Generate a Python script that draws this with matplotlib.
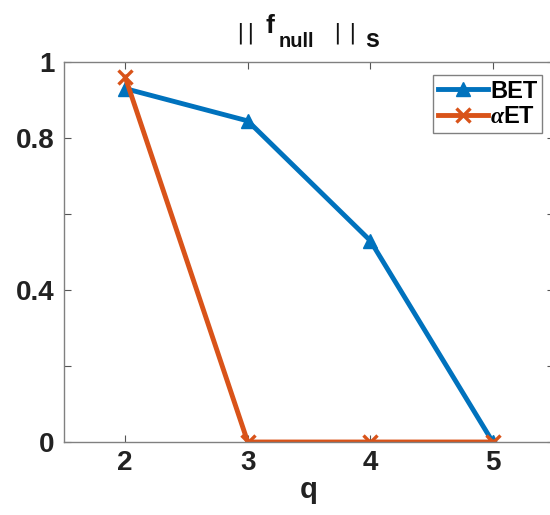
import matplotlib
matplotlib.use("Agg")
import matplotlib.pyplot as plt

q = [2, 3, 4, 5]
bet = [0.93, 0.845, 0.53, 0.0]
aet = [0.96, 0.0, 0.0, 0.0]
xticks = [2, 3, 4, 5]
yticks = [0, 0.2, 0.4, 0.6, 0.8, 1]
ylabels = ["0", "", "0.4", "", "0.8", "1"]

plt.rcParams['font.family'] = ['Liberation Sans', 'DejaVu Sans']
plt.rcParams['font.weight'] = 'bold'
plt.rcParams['mathtext.fontset'] = 'custom'
plt.rcParams['mathtext.rm'] = 'Liberation Sans:bold'
plt.rcParams['mathtext.bf'] = 'Liberation Sans:bold'
plt.rcParams['mathtext.it'] = 'Liberation Serif:italic'

W, H = 550, 515
fig = plt.figure(figsize=(W/100, H/100), dpi=100)
ax = fig.add_axes([64/W, 1-442/H, (554-64)/W, (442-62)/H])

blue = '#0072BD'
orange = '#D95319'
ax.plot(q, bet, color=blue, lw=3.5, marker='^', ms=10, label='BET')
ax.plot(q, aet, color=orange, lw=3.5, marker='x', ms=10, mew=2.4, label=r'$\alpha$ET')

ax.set_xlim(1.5, 5.5)
ax.set_ylim(0, 1)
ax.set_xticks(xticks)
ax.set_yticks(yticks)
ax.set_yticklabels(ylabels)
ax.tick_params(direction='in', top=True, right=True, length=5, width=0.8,
               color='#555555', labelsize=20, pad=7)
ax.tick_params(axis='x', pad=6)
for lab in ax.get_xticklabels() + ax.get_yticklabels():
    lab.set_fontweight('bold')
    lab.set_color('#222222')
for s in ax.spines.values():
    s.set_color('#808080')
    s.set_linewidth(1.0)

ax.set_xlabel('q', fontsize=21, fontweight='bold', labelpad=0, color='#222222')

# title pieces: || f_null || s
def ftext(xpx, ypx_base, s, size, weight='bold', family=None):
    kw = {}
    if family:
        kw['family'] = family
    fig.text(xpx/W, 1-ypx_base/H, s, fontsize=size, fontweight=weight,
             ha='left', va='baseline', color='#111111', **kw)

ftext(236, 38, '|', 16, 'normal', 'DejaVu Sans')
ftext(246, 38, '|', 16, 'normal', 'DejaVu Sans')
ftext(266, 33, 'f', 19)
ftext(279, 47, 'null', 14.5)
ftext(333, 38, '|', 16, 'normal', 'DejaVu Sans')
ftext(348, 38, '|', 16, 'normal', 'DejaVu Sans')
ftext(365, 47, 's', 18)

leg = ax.legend(loc='upper right', bbox_to_anchor=(478/490, 0.966),
                prop={'weight': 'bold', 'size': 17}, fancybox=False, framealpha=1,
                edgecolor='#808080', handlelength=2.1, handletextpad=0.1,
                borderpad=0.2, labelspacing=0.1, borderaxespad=0.0)
leg.get_frame().set_linewidth(1.0)

fig.savefig('out.png', dpi=100)
